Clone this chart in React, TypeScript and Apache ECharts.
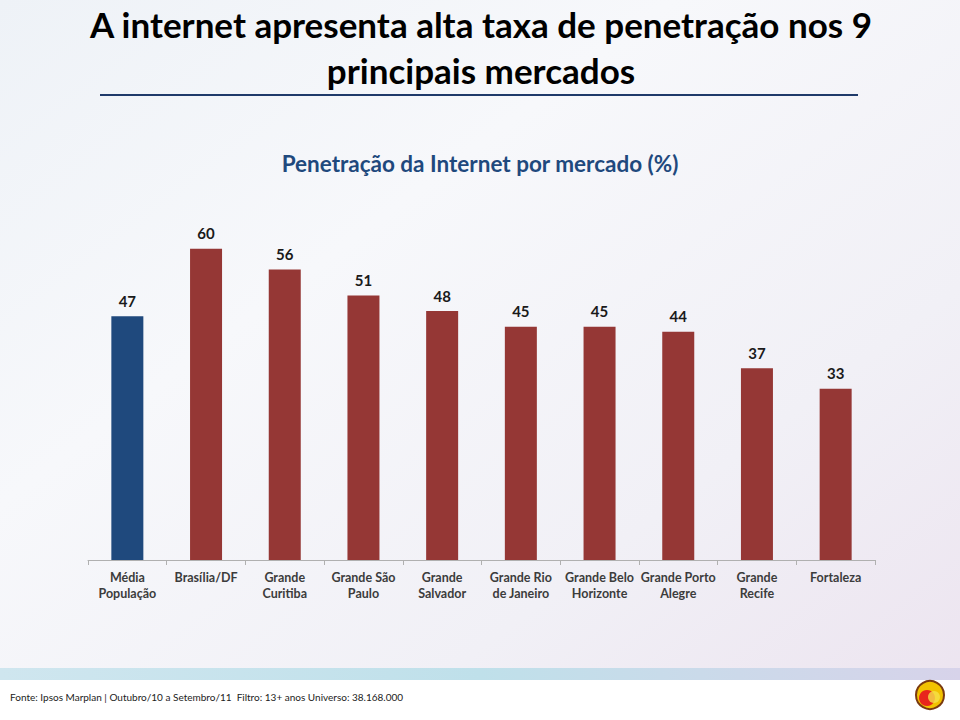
import React, { useEffect, useRef } from "react";
import * as echarts from "echarts";

const categories = [
  "Média\nPopulação",
  "Brasília/DF",
  "Grande\nCuritiba",
  "Grande São\nPaulo",
  "Grande\nSalvador",
  "Grande Rio\nde Janeiro",
  "Grande Belo\nHorizonte",
  "Grande Porto\nAlegre",
  "Grande\nRecife",
  "Fortaleza",
];
const values = [47, 60, 56, 51, 48, 45, 45, 44, 37, 33];
const highlightIndex = 0;

const titleLines = ["A internet apresenta alta taxa de penetração nos 9", "principais mercados"];
const subtitle = "Penetração da Internet por mercado (%)";
const footnote = "Fonte: Ipsos Marplan | Outubro/10 a Setembro/11  Filtro: 13+ anos Universo: 38.168.000";

export default function App() {
  const ref = useRef<HTMLDivElement>(null);
  useEffect(() => {
    document.body.style.margin = "0";
    const chart = echarts.init(ref.current!, null, { renderer: "svg" });
    const font = "Lato, 'Open Sans', sans-serif";
    chart.setOption({
      animation: false,
      backgroundColor: {
        type: "linear",
        x: 0, y: 0, x2: 1, y2: 1,
        colorStops: [
          { offset: 0, color: "#eef2f7" },
          { offset: 0.35, color: "#f7f8fb" },
          { offset: 0.7, color: "#f1f0f6" },
          { offset: 1, color: "#ece3ef" },
        ],
      },
      graphic: [
        {
          type: "text",
          x: 481,
          y: 24,
          style: {
            text: titleLines[0],
            font: `bold 35px ${font}`,
            fill: "#000",
            textAlign: "center",
            textVerticalAlign: "middle",
          },
        },
        {
          type: "text",
          x: 481,
          y: 70,
          style: {
            text: titleLines[1],
            font: `bold 35px ${font}`,
            fill: "#000",
            textAlign: "center",
            textVerticalAlign: "middle",
          },
        },
        {
          type: "line",
          shape: { x1: 100, y1: 95, x2: 858, y2: 95 },
          style: { stroke: "#1f3a6a", lineWidth: 2 },
        },
        {
          type: "text",
          x: 480,
          y: 163,
          style: {
            text: subtitle,
            font: `bold 22.5px ${font}`,
            fill: "#1f497d",
            textAlign: "center",
            textVerticalAlign: "middle",
          },
        },
        {
          type: "rect",
          shape: { x: 0, y: 668, width: 960, height: 12 },
          style: {
            fill: {
              type: "linear", x: 0, y: 0, x2: 1, y2: 0,
              colorStops: [
                { offset: 0, color: "#cfe6ef" },
                { offset: 0.5, color: "#bfe0ea" },
                { offset: 1, color: "#d7d3ea" },
              ],
            },
          },
        },
        {
          type: "rect",
          shape: { x: 0, y: 680, width: 960, height: 40 },
          style: { fill: "#ffffff" },
        },
        {
          type: "text",
          x: 10,
          y: 697,
          style: {
            text: footnote,
            font: `10px ${font}`,
            fill: "#222",
            textVerticalAlign: "middle",
          },
        },
        {
          type: "circle",
          shape: { cx: 930, cy: 695, r: 14 },
          style: { fill: "#f2c200", stroke: "#7a3a10", lineWidth: 2 },
        },
        {
          type: "circle",
          shape: { cx: 927, cy: 698, r: 8 },
          style: { fill: "#e8261c" },
        },
        {
          type: "circle",
          shape: { cx: 934, cy: 697, r: 6 },
          style: { fill: "#f5e14a", opacity: 0.8 },
        },
      ],
      grid: { left: 88, right: 85, top: 197, bottom: 160, containLabel: false },
      xAxis: {
        type: "category",
        data: categories,
        boundaryGap: true,
        axisLine: { lineStyle: { color: "#b0b0b0", width: 1 } },
        axisTick: { show: true, length: 5, lineStyle: { color: "#b0b0b0" } },
        axisLabel: {
          interval: 0,
          margin: 9,
          fontFamily: font,
          fontWeight: "bold",
          fontSize: 12.5,
          lineHeight: 16,
          color: "#3c3c3c",
        },
      },
      yAxis: {
        type: "value",
        min: 0,
        max: 70,
        show: false,
        splitLine: { show: false },
      },
      series: [
        {
          type: "bar",
          barWidth: 32,
          data: values.map((v, i) => ({
            value: v,
            itemStyle: { color: i === highlightIndex ? "#1f497d" : "#953735" },
          })),
          label: {
            show: true,
            position: "top",
            distance: 8,
            fontFamily: font,
            fontWeight: "bold",
            fontSize: 15,
            color: "#1a1a1a",
          },
        },
      ],
    });
    return () => chart.dispose();
  }, []);
  return <div ref={ref} style={{ width: 960, height: 720 }} />;
}
